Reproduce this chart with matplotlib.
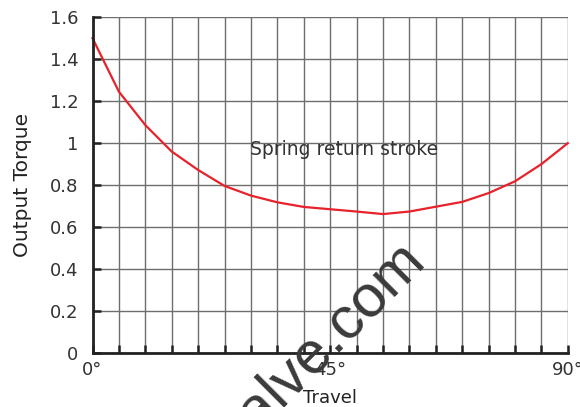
import numpy as np
import matplotlib
matplotlib.use("Agg")
import matplotlib.pyplot as plt

# 数据
travel = [0, 5, 10, 15, 20, 25, 30, 35, 40, 45, 50, 55, 60, 65, 70, 75, 80, 85, 90]
torque = [1.50, 1.245, 1.086, 0.960, 0.872, 0.796, 0.750, 0.718, 0.696, 0.685, 0.674, 0.662,
          0.674, 0.697, 0.720, 0.762, 0.818, 0.900, 1.000]
y_ticks = [0, 0.2, 0.4, 0.6, 0.8, 1, 1.2, 1.4, 1.6]
y_labels = ["0", "0.2", "0.4", "0.6", "0.8", "1", "1.2", "1.4", "1.6"]
x_labels = {0: "0°", 45: "45°", 90: "90°"}

plt.rcParams['font.family'] = ['DejaVu Sans']

fig = plt.figure(figsize=(5.8, 4.07), dpi=100)
ax = fig.add_axes([0.1595, 0.1327, 0.8195, 0.825])

ax.plot(travel, torque, color='#e8222a', lw=1.6, zorder=3, clip_on=False)

ax.set_xlim(0, 90)
ax.set_ylim(0, 1.6)
xt = np.arange(0, 91, 5)
ax.set_xticks(xt)
ax.set_xticklabels([x_labels.get(int(v), "") for v in xt], fontsize=13, color='#333333')
ax.set_yticks(y_ticks)
ax.set_yticklabels(y_labels, fontsize=13, color='#333333')
ax.tick_params(axis='both', direction='in', length=6, width=1.8, color='#222222')
ax.tick_params(axis='x', pad=6)
ax.tick_params(axis='y', pad=10)

ax.grid(True, color='#6e6e6e', lw=1.0)
ax.set_axisbelow(True)
for s in ['top', 'right']:
    ax.spines[s].set_visible(False)
for s in ['left', 'bottom']:
    ax.spines[s].set_linewidth(2)
    ax.spines[s].set_color('#222222')
    ax.spines[s].set_zorder(4)

ax.set_xlabel("Travel", fontsize=13, color='#222222', labelpad=7)
ax.set_ylabel("Output Torque", fontsize=14.5, color='#222222', labelpad=13)

ax.text(29.8, 0.97, "Spring return stroke", fontsize=13.5, color='#333333', ha='left', va='center')

# 水印
fig.text(0.738, 0.352, "valve.com", fontsize=43, color='#3a3a3a', rotation=45,
         family='Liberation Sans', rotation_mode='anchor', ha='right', va='baseline', zorder=10)

fig.savefig("out.png", dpi=100)
